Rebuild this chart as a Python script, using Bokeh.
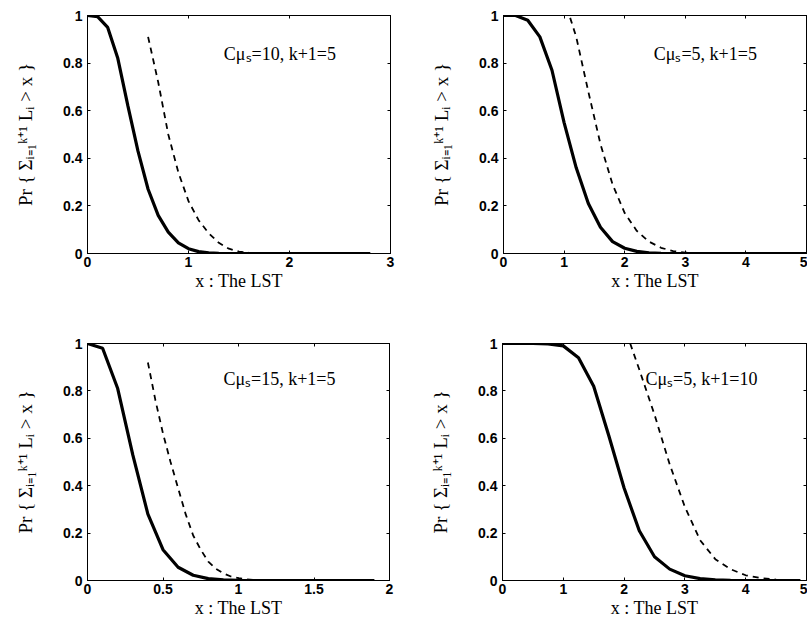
from bokeh.plotting import figure
from bokeh.layouts import column, row
from bokeh.models import (Range1d, LinearAxis, FixedTicker, NumeralTickFormatter,
                          CustomLabelingPolicy)
from bokeh.core.properties import value
from bokeh.embed import file_html
from bokeh.resources import INLINE

# ---- data ----
s1_x = [0, 0.1, 0.2, 0.3, 0.4, 0.5, 0.6, 0.7, 0.8, 0.9, 1.0, 1.1, 1.2, 1.3, 1.4, 2.8]
s1_y = [1, 0.995, 0.95, 0.82, 0.62, 0.43, 0.27, 0.16, 0.09, 0.045, 0.02, 0.008, 0.003, 0.001, 0, 0]
d1_x = [0.6, 0.7, 0.8, 0.9, 1.0, 1.1, 1.2, 1.3, 1.4, 1.5, 1.6]
d1_y = [0.91, 0.72, 0.50, 0.34, 0.22, 0.14, 0.085, 0.045, 0.02, 0.008, 0.003]

s2_x = [0, 0.2, 0.4, 0.6, 0.8, 1.0, 1.2, 1.4, 1.6, 1.8, 2.0, 2.2, 2.4, 2.6, 2.8, 5.0]
s2_y = [1, 1.0, 0.98, 0.91, 0.77, 0.55, 0.36, 0.21, 0.11, 0.05, 0.022, 0.009, 0.003, 0.001, 0, 0]
d2_x = [1.1, 1.2, 1.4, 1.6, 1.8, 2.0, 2.2, 2.4, 2.6, 2.8, 3.0, 3.2]
d2_y = [0.99, 0.91, 0.68, 0.46, 0.29, 0.17, 0.095, 0.05, 0.024, 0.01, 0.004, 0.001]

s3_x = [0, 0.1, 0.2, 0.3, 0.4, 0.5, 0.6, 0.7, 0.8, 0.9, 1.0, 1.1, 1.9]
s3_y = [1, 0.98, 0.81, 0.53, 0.28, 0.13, 0.056, 0.022, 0.008, 0.003, 0.001, 0, 0]
d3_x = [0.4, 0.45, 0.5, 0.55, 0.6, 0.65, 0.7, 0.75, 0.8, 0.85, 0.9, 0.95, 1.0, 1.05, 1.1]
d3_y = [0.92, 0.76, 0.62, 0.50, 0.39, 0.28, 0.19, 0.13, 0.08, 0.05, 0.03, 0.017, 0.01, 0.005, 0.002]

s4_x = [0, 0.5, 0.75, 1.0, 1.25, 1.5, 1.75, 2.0, 2.25, 2.5, 2.75, 3.0, 3.25, 3.5, 3.75, 4.0, 4.9]
s4_y = [1, 1.0, 0.998, 0.99, 0.94, 0.82, 0.61, 0.39, 0.21, 0.10, 0.048, 0.02, 0.008, 0.003, 0.001, 0, 0]
d4_x = [2.1, 2.25, 2.5, 2.75, 3.0, 3.25, 3.5, 3.75, 4.0, 4.25, 4.5, 4.6]
d4_y = [1.0, 0.89, 0.70, 0.49, 0.31, 0.17, 0.09, 0.048, 0.022, 0.01, 0.004, 0.002]

x_ticks_1 = [0, 1, 2, 3]
x_ticks_2 = [0, 1, 2, 3, 4, 5]
x_ticks_3 = [0, 0.5, 1, 1.5, 2]
x_ticks_4 = [0, 1, 2, 3, 4, 5]
y_ticks = [0, 0.2, 0.4, 0.6, 0.8, 1]

labels = ["Cμₛ=10, k+1=5", "Cμₛ=5, k+1=5", "Cμₛ=15, k+1=5", "Cμₛ=5, k+1=10"]
label_pos = [(1.35, 0.84), (2.48, 0.84), (0.90, 0.85), (2.35, 0.85)]

X_LABEL = "x : The LST"
Y_LABEL = "Pr { Σᵢ₌₁ᵏ⁺¹ Lᵢ > x }"

SERIF = "Liberation Serif"
SANS = "Liberation Sans"


def make_panel(xmax, xticks, sx, sy, dx, dy, lab, lpos, width, height,
               bl, br, bt, bb):
    p = figure(width=width, height=height, output_backend="svg",
               toolbar_location=None, x_range=Range1d(0, xmax),
               y_range=Range1d(0, 1), x_axis_location=None,
               y_axis_location=None,
               min_border_left=bl, min_border_right=br,
               min_border_top=bt, min_border_bottom=bb)
    p.grid.visible = False
    p.outline_line_color = "black"
    p.outline_line_width = 1
    p.background_fill_color = "white"
    p.border_fill_color = "white"

    fmt = NumeralTickFormatter(format="0.[0]")

    xb = LinearAxis(ticker=FixedTicker(ticks=xticks), formatter=fmt,
                    axis_label=X_LABEL)
    yl = LinearAxis(ticker=FixedTicker(ticks=y_ticks), formatter=fmt,
                    axis_label=Y_LABEL)
    xt = LinearAxis(ticker=FixedTicker(ticks=xticks))
    yr = LinearAxis(ticker=FixedTicker(ticks=y_ticks))
    for ax in (xb, yl):
        ax.major_tick_in = 3
        ax.major_tick_out = 0
        ax.minor_tick_line_color = None
        ax.axis_line_color = "black"
        ax.major_label_text_font = SANS
        ax.major_label_text_font_style = "bold"
        ax.major_label_text_font_size = "14px"
        ax.major_label_text_color = "black"
        ax.axis_label_text_font = SERIF
        ax.axis_label_text_font_style = "normal"
        ax.axis_label_text_color = "black"
    xb.axis_label_text_font_size = "18px"
    yl.axis_label_text_font_size = "19px"
    xb.major_label_standoff = 3
    xb.axis_label_standoff = 1
    yl.major_label_standoff = 5
    yl.axis_label_standoff = 24
    for ax in (xt, yr):
        ax.major_tick_in = 3
        ax.major_tick_out = 0
        ax.minor_tick_line_color = None
        ax.major_label_policy = CustomLabelingPolicy(
            code="for (const i of indices) indices.unset(i)")
        ax.major_label_text_font_size = "0px"
        ax.major_label_standoff = 0
        ax.axis_line_color = "black"
    p.add_layout(xb, "below")
    p.add_layout(yl, "left")
    p.add_layout(xt, "above")
    p.add_layout(yr, "right")

    p.line(sx, sy, line_color="black", line_width=3.2)
    p.line(dx, dy, line_color="black", line_width=1.8, line_dash="6 5")
    p.text(x=[lpos[0]], y=[lpos[1]], text=[lab], text_font=value(SERIF),
           text_font_size="18px", text_align="left",
           text_baseline="middle", text_color="black")
    return p


p1 = make_panel(3, x_ticks_1, s1_x, s1_y, d1_x, d1_y, labels[0], label_pos[0],
                400, 310, 87, 10, 15, 57)
p2 = make_panel(5, x_ticks_2, s2_x, s2_y, d2_x, d2_y, labels[1], label_pos[1],
                407, 310, 103, 1, 15, 57)
p3 = make_panel(2, x_ticks_3, s3_x, s3_y, d3_x, d3_y, labels[2], label_pos[2],
                400, 314, 87, 11, 32, 44)
p4 = make_panel(5, x_ticks_4, s4_x, s4_y, d4_x, d4_y, labels[3], label_pos[3],
                407, 314, 102, 1, 33, 43)

layout = column(row(p1, p2), row(p3, p4))
open("out.html", "w").write(file_html(layout, INLINE))
